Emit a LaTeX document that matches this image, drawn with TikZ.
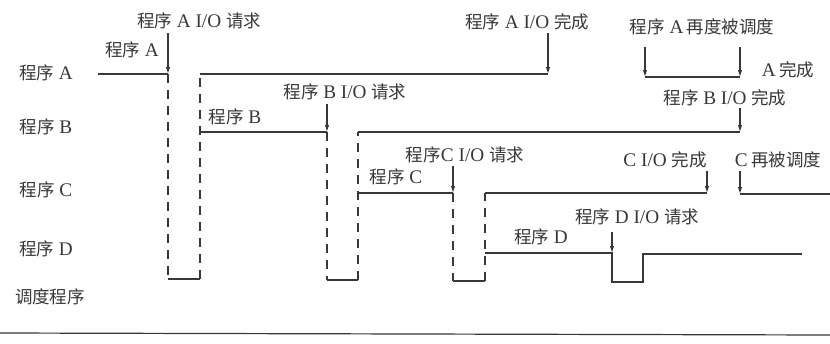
\documentclass[tikz,border=0pt]{standalone}
\usepackage{fontspec}
\setmainfont[Scale=1.1]{Liberation Serif}
\newfontfamily\cjk{Noto Sans CJK SC}
\usetikzlibrary{arrows.meta}
\definecolor{ink}{HTML}{383838}
\newcommand\cx[1]{{\cjk #1}}
\begin{document}
\begin{tikzpicture}[x=1pt,y=-1pt,
  lbl/.style={font=\fontsize{17.5}{19}\selectfont, text=ink, inner sep=0pt},
  run/.style={draw=ink, line width=1.3pt},
  wait/.style={draw=ink, line width=1.1pt, dash pattern=on 9pt off 7pt},
  ev/.style={draw=ink, line width=1.1pt, -{Latex[length=7pt,width=4.5pt]}},
]
\path[fill=white] (0,0) rectangle (830,343);
\useasboundingbox (0,0) rectangle (830,343);

% level coordinates
\coordinate (A1) at (98,74);  \coordinate (A2) at (168,74);
\coordinate (S1a) at (168,279); \coordinate (S1b) at (200,279);
\coordinate (A3) at (200,74); \coordinate (A4) at (548,74);
\coordinate (B1) at (200,132); \coordinate (B2) at (327,132);
\coordinate (S2a) at (327,280); \coordinate (S2b) at (358,280);
\coordinate (B3) at (358,132); \coordinate (B4) at (740,132);
\coordinate (C1) at (358,193); \coordinate (C2) at (453,193);
\coordinate (S3a) at (453,281); \coordinate (S3b) at (485,281);
\coordinate (C3) at (485,193); \coordinate (C4) at (707,193);
\coordinate (C5) at (740,194); \coordinate (C6) at (830,194);
\coordinate (D1) at (485,253); \coordinate (D2) at (612,253);
\coordinate (S4a) at (612,282); \coordinate (S4b) at (643,282);
\coordinate (D3) at (643,254); \coordinate (D4) at (802,254);
\coordinate (A5) at (645,77); \coordinate (A6) at (740,77);
\coordinate (R1) at (0,333); \coordinate (R2) at (830,335);

% arrow starts
\coordinate (tA) at (168,33);
\coordinate (tAc) at (548,33);
\coordinate (tB) at (327,104);
\coordinate (tC) at (453,166);
\coordinate (tD) at (612,232);
\coordinate (tA5) at (645,47);
\coordinate (tA6) at (740,47);
\coordinate (tBc) at (740,108);
\coordinate (tCc) at (707,171);
\coordinate (tCr) at (740,171);

% program runs and waits
\draw[run] (A1) -- (A2);
\draw[wait] (A2) -- (S1a);
\draw[run] (S1a) -- (S1b);
\draw[wait] (S1b) -- (A3);
\draw[run] (A3) -- (A4);

\draw[run] (B1) -- (B2);
\draw[wait] (B2) -- (S2a);
\draw[run] (S2a) -- (S2b);
\draw[wait] (S2b) -- (B3);
\draw[run] (B3) -- (B4);

\draw[run] (C1) -- (C2);
\draw[wait] (C2) -- (S3a);
\draw[run] (S3a) -- (S3b);
\draw[wait] (S3b) -- (C3);
\draw[run] (C3) -- (C4);
\draw[run] (C5) -- (C6);

\draw[run] (D1) -- (D2) -- (S4a) -- (S4b) -- (D3) -- (D4);
\draw[run] (A5) -- (A6);

\draw[draw=ink, line width=1.2pt] (R1) -- (R2);

% event arrows
\draw[ev] (tA) -- (A2);
\draw[ev] (tAc) -- (A4);
\draw[ev] (tB) -- (B2);
\draw[ev] (tC) -- (C2);
\draw[ev] (tD) -- (D2);
\draw[ev] (tA5) -- (A5);
\draw[ev] (tA6) -- (A6);
\draw[ev] (tBc) -- (B4);
\draw[ev] (tCc) -- (C4);
\draw[ev] (tCr) -- (C5);

% row labels
\node[lbl] (rA) at (46,73) {\cx{程序} A};
\node[lbl] (rB) at (46,127) {\cx{程序} B};
\node[lbl] (rC) at (46,190) {\cx{程序} C};
\node[lbl] (rD) at (46,249) {\cx{程序} D};
\node[lbl] (rS) at (50,297) {\cx{调度程序}};

% event labels
\node[lbl] (lAreq) at (199,21) {\cx{程序} A I/O \cx{请求}};
\node[lbl] (lA) at (132,50) {\cx{程序} A};
\node[lbl] (lAdone) at (527,22) {\cx{程序} A I/O \cx{完成}};
\node[lbl] (lAres) at (702,27) {\cx{程序} A\,\cx{再度被调度}};
\node[lbl] (lAfin) at (788,70) {A\,\cx{完成}};
\node[lbl] (lBreq) at (345,92) {\cx{程序} B I/O \cx{请求}};
\node[lbl] (lB) at (235,117) {\cx{程序} B};
\node[lbl] (lBdone) at (725,98) {\cx{程序} B I/O \cx{完成}};
\node[lbl] (lCreq) at (465,155) {\cx{程序}C I/O \cx{请求}};
\node[lbl] (lC) at (396,177) {\cx{程序} C};
\node[lbl] (lCdone) at (665,160) {C I/O \cx{完成}};
\node[lbl] (lCres) at (778,160) {C\,\cx{再被调度}};
\node[lbl] (lDreq) at (637,217) {\cx{程序} D I/O \cx{请求}};
\node[lbl] (lD) at (541,237) {\cx{程序} D};
\end{tikzpicture}
\end{document}
